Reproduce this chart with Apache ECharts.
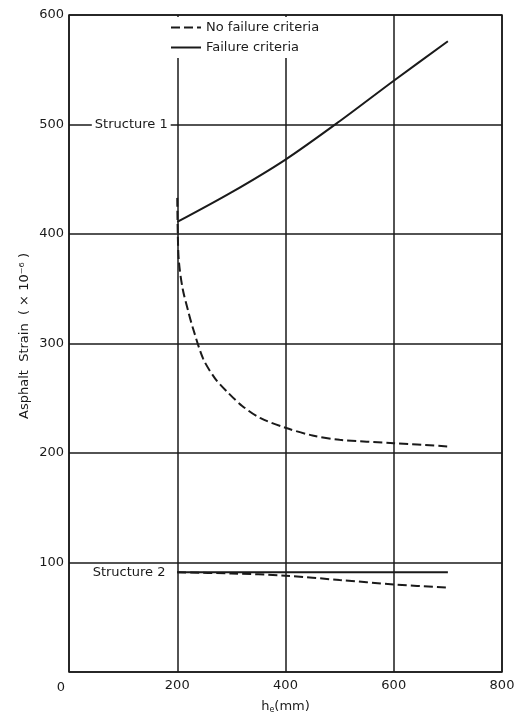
<!DOCTYPE html>
<html>
<head>
<meta charset="utf-8">
<script src="https://cdn.jsdelivr.net/npm/echarts@6/dist/echarts.min.js"></script>
<style>
  html, body { margin: 0; padding: 0; background: #fff; }
  #chart { width: 520px; height: 719px; }
</style>
</head>
<body>
<div id="chart"></div>
<script>
// Asphalt strain against h_e for two pavement structures
const xTicks = [0, 200, 400, 600, 800];
const yTicks = [0, 100, 200, 300, 400, 500, 600];

// Structure 1
const s1Failure = [[200, 411], [300, 438], [400, 468], [500, 503], [600, 540], [700, 576]];
const s1NoFailure = [[200, 433], [201, 400], [203, 375], [210, 350], [220, 330], [229, 314],
  [248, 286], [270, 268], [292, 256], [320, 243], [353, 232], [400, 223], [450, 216],
  [500, 212], [600, 209], [700, 206]];

// Structure 2
const s2Failure = [[200, 91], [300, 91], [400, 91], [500, 91], [600, 91], [700, 91]];
const s2NoFailure = [[200, 91], [300, 90], [400, 88], [500, 84], [600, 80], [700, 77]];

const ink = '#1a1a1a';
const font = 'DejaVu Sans';

const chart = echarts.init(document.getElementById('chart'), null, { renderer: 'canvas' });

const solid = { color: ink, width: 2, type: 'solid' };
const dashed = { color: ink, width: 2, type: [9, 4] };

// an invisible anchor carrying a text label at a data coordinate
function tag(text, coord, withBg) {
  return {
    symbol: 'rect',
    symbolSize: 1,
    silent: true,
    itemStyle: { color: 'rgba(0,0,0,0)' },
    data: [{
      coord: coord,
      label: {
        show: true, formatter: text, position: 'inside',
        fontFamily: font, fontSize: 13, color: ink,
        backgroundColor: withBg ? '#fff' : 'transparent', padding: [1, 3]
      }
    }]
  };
}

chart.setOption({
  animation: false,
  backgroundColor: '#fff',
  textStyle: { fontFamily: font, color: ink },
  grid: { left: 69, right: 18, top: 15, bottom: 44, show: true, borderColor: ink, borderWidth: 1.5 },
  legend: {
    data: ['No failure criteria', 'Failure criteria'],
    orient: 'vertical',
    left: 166,
    top: 17,
    itemWidth: 30,
    itemHeight: 12,
    itemGap: 7,
    padding: [4, 6, 4, 4],
    backgroundColor: '#fff',
    itemStyle: { opacity: 0 },
    textStyle: { fontFamily: font, fontSize: 13, color: ink }
  },
  xAxis: {
    type: 'value',
    min: xTicks[0],
    max: xTicks[xTicks.length - 1],
    interval: 200,
    name: 'h{sub|e}(mm)',
    nameLocation: 'middle',
    nameGap: 28,
    nameTextStyle: {
      fontFamily: font, fontSize: 13, color: ink,
      rich: { sub: { fontFamily: font, fontSize: 8, verticalAlign: 'bottom', padding: [6, 0, 0, 0] } }
    },
    axisLine: { show: false },
    axisTick: { show: false },
    axisLabel: {
      fontFamily: font, fontSize: 13, color: ink, margin: 7,
      formatter: v => (v === 0 ? '' : String(v))
    },
    splitLine: { show: true, lineStyle: { color: ink, width: 1.5 } }
  },
  yAxis: {
    type: 'value',
    min: yTicks[0],
    max: yTicks[yTicks.length - 1],
    interval: 100,
    axisLine: { show: false },
    axisTick: { show: false },
    axisLabel: {
      fontFamily: font, fontSize: 13, color: ink, margin: 5,
      formatter: v => (v === 0 ? '' : String(v))
    },
    splitLine: { show: true, lineStyle: { color: ink, width: 1.5 } }
  },
  graphic: [
    {
      type: 'text',
      x: 25, y: 336,
      rotation: Math.PI / 2,
      style: {
        text: 'Asphalt  Strain  ( × 10⁻⁶ )',
        font: '13px ' + font,
        fill: ink,
        align: 'center',
        verticalAlign: 'middle'
      }
    },
    {
      type: 'text',
      x: 61, y: 688,
      style: { text: '0', font: '13px ' + font, fill: ink, align: 'center', verticalAlign: 'middle' }
    }
  ],
  series: [
    {
      name: 'No failure criteria',
      type: 'line',
      data: s1NoFailure,
      smooth: 0.3,
      symbol: 'none',
      lineStyle: dashed,
      itemStyle: { color: ink },
      z: 3
    },
    {
      name: 'Failure criteria',
      type: 'line',
      data: s1Failure,
      smooth: 0.3,
      symbol: 'none',
      lineStyle: solid,
      itemStyle: { color: ink },
      z: 3,
      markPoint: tag('Structure 1', [115, 500], true)
    },
    {
      name: 'No failure criteria',
      type: 'line',
      data: s2NoFailure,
      smooth: 0.3,
      symbol: 'none',
      lineStyle: dashed,
      itemStyle: { color: ink },
      z: 3
    },
    {
      name: 'Failure criteria',
      type: 'line',
      data: s2Failure,
      symbol: 'none',
      lineStyle: solid,
      itemStyle: { color: ink },
      z: 3,
      markPoint: tag('Structure 2', [111, 91], false)
    }
  ]
});
</script>
</body>
</html>
